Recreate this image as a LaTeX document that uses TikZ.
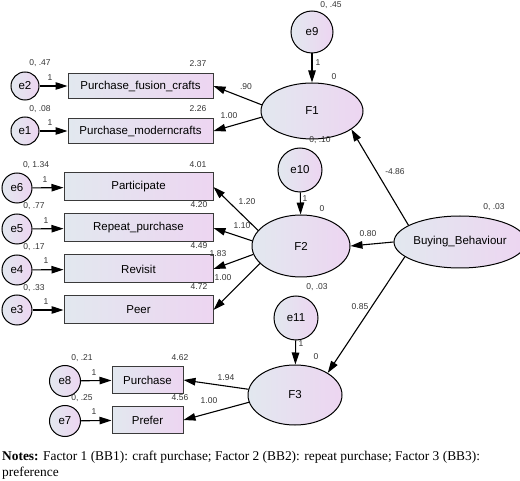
\documentclass[tikz,border=0pt]{standalone}
\usepackage{fontspec}
\setmainfont{Liberation Serif}
\setsansfont{Liberation Sans}
\usetikzlibrary{arrows.meta,shapes.geometric}

\begin{document}
\begin{tikzpicture}[x=1pt, y=-1pt,
    errCircle/.style={circle, draw=black, line width=1pt, left color=leftColour, right color=rightColour,
        inner sep=0pt, font=\sffamily\fontsize{11.5}{13}\selectfont},
    latentEll/.style={ellipse, draw=black, line width=1pt, left color=leftColour, right color=rightColour,
        inner sep=0pt, font=\sffamily\fontsize{11.5}{13}\selectfont},
    obsBox/.style={rectangle, draw=boxBorder, line width=1pt, left color=leftColour, right color=rightColour,
        inner sep=0pt, font=\sffamily\fontsize{11.5}{13}\selectfont},
    estLabel/.style={inner sep=0pt, text=labelColour, font=\sffamily\fontsize{8.5}{10}\selectfont},
    pathArrow/.style={line width=1.1pt, -{Triangle[length=12pt,width=7.5pt]}}]
    \definecolor{leftColour}{HTML}{E2E8EF}
    \definecolor{rightColour}{HTML}{EDD5F1}
    \definecolor{boxBorder}{HTML}{3A3A3A}
    \definecolor{labelColour}{HTML}{333333}

    \useasboundingbox (0,0) rectangle (520,481);

    % Latent factors
    \node[latentEll, minimum width=102pt, minimum height=56pt] (F1) at (312,111) {F1};
    \node[latentEll, minimum width=98pt, minimum height=62pt] (F2) at (301,246) {F2};
    \node[latentEll, minimum width=94pt, minimum height=60pt] (F3) at (295,395) {F3};
    \node[latentEll, minimum width=110pt, minimum height=52pt] (BB) at (460,242) {Buying\_Behaviour};

    % Residuals of the factors
    \node[errCircle, minimum size=42pt] (e9) at (312,32) {e9};
    \node[errCircle, minimum size=44pt] (e10) at (300,170) {e10};
    \node[errCircle, minimum size=44pt] (e11) at (296,318) {e11};

    % Indicators of F1
    \node[obsBox, minimum width=145pt, minimum height=25pt] (fusion) at (140.5,86) {Purchase\_fusion\_crafts};
    \node[obsBox, minimum width=145pt, minimum height=25pt] (modern) at (140.5,131) {Purchase\_moderncrafts};
    \node[errCircle, minimum size=28pt] (e2) at (25,86) {e2};
    \node[errCircle, minimum size=28pt] (e1) at (25,131) {e1};

    % Indicators of F2
    \node[obsBox, minimum width=149pt, minimum height=28pt] (particip) at (138.5,187) {Participate};
    \node[obsBox, minimum width=149pt, minimum height=28pt] (repeat) at (138.5,228) {Repeat\_purchase};
    \node[obsBox, minimum width=149pt, minimum height=28pt] (revisit) at (138.5,269) {Revisit};
    \node[obsBox, minimum width=149pt, minimum height=28pt] (peer) at (138.5,310) {Peer};
    \node[errCircle, minimum size=30pt] (e6) at (17,188) {e6};
    \node[errCircle, minimum size=30pt] (e5) at (17,229) {e5};
    \node[errCircle, minimum size=30pt] (e4) at (17,270) {e4};
    \node[errCircle, minimum size=30pt] (e3) at (17,310) {e3};

    % Indicators of F3
    \node[obsBox, minimum width=71pt, minimum height=27pt] (purchase) at (147.5,380) {Purchase};
    \node[obsBox, minimum width=71pt, minimum height=27pt] (prefer) at (147.5,420) {Prefer};
    \node[errCircle, minimum size=31pt] (e8) at (65,381) {e8};
    \node[errCircle, minimum size=31pt] (e7) at (65,421) {e7};

    % Paths from the residuals
    \draw[pathArrow] (e9) -- (F1);
    \draw[pathArrow] (e10) -- (F2);
    \draw[pathArrow] (e11) -- (F3);
    \foreach \err/\ind in {e2/fusion, e1/modern, e6/particip, e5/repeat, e4/revisit, e3/peer, e8/purchase, e7/prefer}
        \draw[pathArrow] (\err) -- (\ind);

    % Loadings
    \draw[pathArrow] (F1.173) -- (fusion.east);
    \draw[pathArrow] (F1.187) -- (modern.east);
    \draw[pathArrow] (F2.160) -- (particip.east);
    \draw[pathArrow] (F2.174) -- (repeat.east);
    \draw[pathArrow] (F2.190) -- (revisit.east);
    \draw[pathArrow] (F2.203) -- (peer.east);
    \draw[pathArrow] (F3.173) -- (purchase.east);
    \draw[pathArrow] (F3.189) -- (prefer.east);

    % Second order paths
    \draw[pathArrow] (BB.162) -- (F1.335);
    \draw[pathArrow] (BB.west) -- (F2.east);
    \draw[pathArrow] (BB.195) -- (F3.34);

    % Estimates
    \node[estLabel] (v9) at (331,5) {0, .45};
    \node[estLabel] (m1) at (334,77) {0};
    \node[estLabel] (w9) at (318,63) {1};
    \node[estLabel] (v2) at (40,63) {0, .47};
    \node[estLabel] (w2) at (50,78) {1};
    \node[estLabel] (m2) at (198,64) {2.37};
    \node[estLabel] (v1) at (40,109) {0, .08};
    \node[estLabel] (w1) at (50,123) {1};
    \node[estLabel] (m1b) at (198,109) {2.26};
    \node[estLabel] (l2) at (246,87) {.90};
    \node[estLabel] (l1) at (229,116) {1.00};

    \node[estLabel] (v10) at (320,140) {0, .10};
    \node[estLabel] (w10) at (305,199) {1};
    \node[estLabel] (m2f) at (322,209) {0};
    \node[estLabel] (v6) at (36,165) {0, 1.34};
    \node[estLabel] (w6) at (45,180) {1};
    \node[estLabel] (m6) at (198,165) {4.01};
    \node[estLabel] (v5) at (34,206) {0, .77};
    \node[estLabel] (w5) at (46,221) {1};
    \node[estLabel] (m5) at (199,205) {4.20};
    \node[estLabel] (v4) at (34,247) {0, .17};
    \node[estLabel] (w4) at (46,261) {1};
    \node[estLabel] (m4) at (199,246) {4.49};
    \node[estLabel] (v3) at (34,288) {0, .33};
    \node[estLabel] (w3) at (46,302) {1};
    \node[estLabel] (m3) at (199,287) {4.72};
    \node[estLabel] (l6) at (247,202) {1.20};
    \node[estLabel] (l5) at (242,226) {1.10};
    \node[estLabel] (l4) at (218,254) {1.83};
    \node[estLabel] (l3) at (223,278) {1.00};

    \node[estLabel] (vBB) at (494,207) {0, .03};
    \node[estLabel] (gF1) at (395,172) {-4.86};
    \node[estLabel] (gF2) at (368,234) {0.80};
    \node[estLabel] (gF3) at (360,307) {0.85};

    \node[estLabel] (v11) at (317,287) {0, .03};
    \node[estLabel] (w11) at (301,344) {1};
    \node[estLabel] (m3f) at (316,357) {0};
    \node[estLabel] (v8) at (82,358) {0, .21};
    \node[estLabel] (w8) at (94,373) {1};
    \node[estLabel] (m8) at (180,358) {4.62};
    \node[estLabel] (v7) at (82,398) {0, .25};
    \node[estLabel] (w7) at (94,412) {1};
    \node[estLabel] (m7) at (180,398) {4.56};
    \node[estLabel] (l8) at (226,378) {1.94};
    \node[estLabel] (l7) at (209,401) {1.00};

    % Notes
    \node[anchor=north west, align=left, inner sep=0pt, font=\rmfamily\fontsize{13.4}{16}\selectfont] (notes) at (2,451)
        {\textbf{Notes:} Factor 1 (BB1): craft purchase; Factor 2 (BB2): repeat purchase; Factor 3 (BB3):\\preference};

\end{tikzpicture}
\end{document}
